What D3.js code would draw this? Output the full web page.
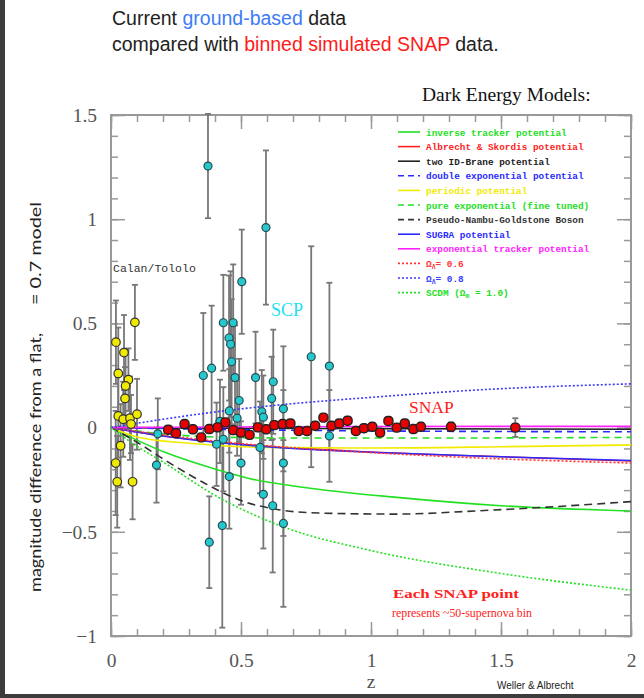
<!DOCTYPE html>
<html>
<head>
<meta charset="utf-8">
<script src="https://cdn.jsdelivr.net/npm/d3@7"></script>
<style>
  body { margin: 0; background: #fff; }
  svg { display: block; }
</style>
</head>
<body>
<div id="chart"></div>
<script>
// Page size and plot box
let w = 644;
let h = 698;
let plotLeft = 111, plotRight = 631, plotTop = 115, plotBottom = 636;

// Axis ticks
let xMajor = [0, 0.5, 1, 1.5, 2];
let yMajor = [-1, -0.5, 0, 0.5, 1, 1.5];

// Calan/Tololo points: [z, magnitude difference, error]
let calanTololo = [
  [0.019, 0.41, 0.2], [0.05, 0.36, 0.18], [0.092, 0.505, 0.18], [0.028, 0.26, 0.22],
  [0.067, 0.23, 0.15], [0.056, 0.20, 0.17], [0.054, 0.14, 0.15], [0.028, 0.056, 0.2],
  [0.047, 0.04, 0.18], [0.073, 0.045, 0.2], [0.10, 0.064, 0.17], [0.077, 0.017, 0.14],
  [0.037, -0.087, 0.2], [0.018, -0.17, 0.25], [0.024, -0.26, 0.22], [0.083, -0.26, 0.18]
];

// Supernova Cosmology Project points: [z, magnitude difference, error]
let scpPoints = [
  [0.373, 1.255, 0.25], [0.596, 0.96, 0.37], [0.503, 0.70, 0.25], [0.432, 0.503, 0.23],
  [0.47, 0.503, 0.28], [0.454, 0.43, 0.3], [0.46, 0.40, 0.35], [0.77, 0.34, 0.53],
  [0.355, 0.25, 0.3], [0.387, 0.285, 0.3], [0.464, 0.316, 0.3], [0.477, 0.24, 0.25],
  [0.556, 0.24, 0.22], [0.624, 0.22, 0.25], [0.618, 0.14, 0.2], [0.493, 0.13, 0.2],
  [0.455, 0.08, 0.2], [0.485, 0.045, 0.18], [0.58, 0.076, 0.2], [0.586, 0.05, 0.2],
  [0.663, 0.09, 0.3], [0.419, 0.03, 0.2], [0.432, -0.056, 0.25], [0.406, -0.08, 0.2],
  [0.573, -0.095, 0.22], [0.50, -0.17, 0.2], [0.663, -0.17, 0.35], [0.455, -0.235, 0.25],
  [0.586, -0.32, 0.26], [0.622, -0.375, 0.32], [0.663, -0.46, 0.4], [0.378, -0.55, 0.22],
  [0.428, -0.47, 0.49], [0.84, 0.295, 0.4], [0.84, -0.04, 0.22], [0.175, -0.18, 0.18],
  [0.18, -0.03, 0.17]
];

// Binned simulated SNAP points: [z, magnitude difference, error]
let snapPoints = [
  [0.22, -0.01, 0.015], [0.25, -0.027, 0.015], [0.283, 0.017, 0.015], [0.315, -0.008, 0.015],
  [0.347, -0.047, 0.015], [0.378, -0.007, 0.015], [0.41, 0.001, 0.015], [0.44, 0.025, 0.015],
  [0.47, -0.012, 0.015], [0.50, -0.024, 0.015], [0.533, -0.035, 0.015], [0.565, 0.001, 0.015],
  [0.597, -0.008, 0.015], [0.628, 0.012, 0.015], [0.66, 0.017, 0.015], [0.69, 0.02, 0.015],
  [0.722, -0.016, 0.015], [0.754, -0.016, 0.015], [0.785, 0.009, 0.015], [0.817, 0.048, 0.015],
  [0.848, 0.009, 0.015], [0.878, 0.02, 0.015], [0.91, 0.033, 0.015], [0.942, -0.016, 0.015],
  [0.973, -0.003, 0.015], [1.005, 0.004, 0.015], [1.035, -0.024, 0.015], [1.067, 0.032, 0.015],
  [1.099, 0.0, 0.015], [1.13, 0.02, 0.015], [1.163, -0.007, 0.015], [1.192, 0.004, 0.015],
  [1.308, 0.004, 0.02], [1.555, 0.0, 0.045]
];

// Dark energy model curves: [z, magnitude difference]
let inverseTracker = [[0, 0], [0.1, -0.06], [0.2, -0.115], [0.35, -0.18], [0.535, -0.245], [0.73, -0.285], [1.1, -0.335], [1.5, -0.375], [2, -0.4]];
let albrechtSkordis = [[0, 0], [0.2, -0.04], [0.5, -0.08], [1, -0.117], [1.5, -0.14], [2, -0.16]];
let twoBrane = [[0, 0], [0.5, -0.003], [1, -0.005], [2, -0.008]];
let doubleExponential = [[0, 0], [0.5, -0.01], [1, -0.016], [2, -0.02]];
let periodic = [[0, 0], [0.1, -0.045], [0.3, -0.075], [0.6, -0.095], [1.0, -0.098], [1.5, -0.092], [2, -0.083]];
let pureExponential = [[0, 0], [0.2, -0.03], [0.4, -0.045], [0.7, -0.05], [1.2, -0.05], [2, -0.047]];
let pngb = [[0, 0], [0.1, -0.07], [0.2, -0.15], [0.35, -0.26], [0.5, -0.35], [0.65, -0.395], [0.8, -0.41], [1.1, -0.415], [1.4, -0.4], [1.7, -0.38], [2, -0.355]];
let sugra = [[0, 0], [0.2, -0.04], [0.4, -0.07], [0.7, -0.1], [1.0, -0.118], [1.5, -0.14], [2, -0.158]];
let exponentialTracker = [[0, 0], [0.5, 0.003], [1, 0.005], [2, 0.006]];
let lambda06 = [[0, 0], [0.2, -0.035], [0.4, -0.065], [0.7, -0.097], [1.0, -0.12], [1.4, -0.145], [2, -0.17]];
let lambda08 = [[0, 0], [0.2, 0.04], [0.4, 0.075], [0.7, 0.115], [1.0, 0.145], [1.4, 0.18], [2, 0.21]];
let scdm = [[0, 0], [0.1, -0.09], [0.2, -0.165], [0.4, -0.325], [0.66, -0.475], [1.0, -0.59], [1.5, -0.70], [2.0, -0.78]];

// Model names in legend order, then matching data
let modelNames = [
  "inverse tracker potential", "Albrecht & Skordis potential", "two ID-Brane potential",
  "double exponential potential", "periodic potential", "pure exponential (fine tuned)",
  "Pseudo-Nambu-Goldstone Boson", "SUGRA potential", "exponential tracker potential",
  "ΩΛ= 0.6", "ΩΛ= 0.8", "SCDM (Ωm = 1.0)"
];
let modelData = [inverseTracker, albrechtSkordis, twoBrane, doubleExponential, periodic,
  pureExponential, pngb, sugra, exponentialTracker, lambda06, lambda08, scdm];

// Line styles for the models (colour, dash pattern)
let modelColors = ["#22e022", "#ff2222", "#222222", "#2a2aff", "#f2ea00", "#22e022",
  "#333333", "#2a2aff", "#ff22ff", "#ff3333", "#3a3aff", "#22e022"];
let modelDash = [null, null, null, "7,5", null, "7,5", "8,5", null, null, "2,2", "2,2", "2,2"];

let xScale = d3.scaleLinear().domain([0, 2]).range([plotLeft, plotRight]);
let yScale = d3.scaleLinear().domain([-1, 1.5]).range([plotBottom, plotTop]);

let svg = d3.select("#chart").append("svg")
  .attr("width", w)
  .attr("height", h);

// dark border strips of the screenshot
svg.append("rect").attr("x", 0).attr("y", 0).attr("width", 5).attr("height", h).attr("fill", "#3c3c3c");
svg.append("rect").attr("x", 0).attr("y", h - 4).attr("width", w).attr("height", 4).attr("fill", "#3c3c3c");

// Title
let title = svg.append("text")
  .attr("x", 112)
  .attr("y", 25)
  .attr("font-family", "Liberation Sans, Arial, sans-serif")
  .attr("font-size", "19.5px")
  .attr("fill", "#222");
title.append("tspan").text("Current ");
title.append("tspan").attr("fill", "#3d7cf5").text("ground-based");
title.append("tspan").text(" data");
let title2 = svg.append("text")
  .attr("x", 112)
  .attr("y", 51)
  .attr("font-family", "Liberation Sans, Arial, sans-serif")
  .attr("font-size", "19.5px")
  .attr("fill", "#222");
title2.append("tspan").text("compared with ");
title2.append("tspan").attr("fill", "#ff1a1a").text("binned simulated SNAP");
title2.append("tspan").text(" data.");

svg.append("text")
  .attr("x", 422)
  .attr("y", 101)
  .attr("font-family", "Liberation Serif, Times New Roman, serif")
  .attr("font-size", "19.5px")
  .attr("fill", "#111")
  .text("Dark Energy Models:");

// Minor and major ticks on all four sides
let tickColor = "#999";
let xMinor = d3.range(0, 2.001, 0.1);
let yMinor = d3.range(-1, 1.501, 0.1);
let axesSpec = [
  [d3.axisBottom(xScale), xMinor, "translate(0," + plotBottom + ")"],
  [d3.axisTop(xScale), xMinor, "translate(0," + plotTop + ")"],
  [d3.axisLeft(yScale), yMinor, "translate(" + plotLeft + ",0)"],
  [d3.axisRight(yScale), yMinor, "translate(" + plotRight + ",0)"]
];
axesSpec.forEach(function(a) {
  let g = svg.append("g").attr("transform", a[2])
    .call(a[0].tickValues(a[1]).tickSize(-7).tickFormat(""));
  g.select(".domain").remove();
  g.selectAll("line").attr("stroke", tickColor).attr("stroke-width", 1.5);
});
let xBottom = svg.append("g").attr("transform", "translate(0," + plotBottom + ")")
  .call(d3.axisBottom(xScale).tickValues(xMajor).tickSize(-14).tickPadding(17)
    .tickFormat(function(d) { return String(d); }));
let xTop = svg.append("g").attr("transform", "translate(0," + plotTop + ")")
  .call(d3.axisTop(xScale).tickValues(xMajor).tickSize(-14).tickFormat(""));
let yLeft = svg.append("g").attr("transform", "translate(" + plotLeft + ",0)")
  .call(d3.axisLeft(yScale).tickValues(yMajor).tickSize(-14).tickPadding(14)
    .tickFormat(function(d) { return (d < 0 ? "\u2212" : "") + Math.abs(d); }));
let yRight = svg.append("g").attr("transform", "translate(" + plotRight + ",0)")
  .call(d3.axisRight(yScale).tickValues(yMajor).tickSize(-14).tickFormat(""));
[xBottom, xTop, yLeft, yRight].forEach(function(g) {
  g.select(".domain").remove();
  g.selectAll("line").attr("stroke", tickColor).attr("stroke-width", 1.5);
  g.selectAll("text")
    .attr("font-family", "Liberation Serif, Times New Roman, serif")
    .attr("font-size", "19.5px")
    .attr("fill", "#555");
});

// frame
svg.append("rect")
  .attr("x", plotLeft).attr("y", plotTop)
  .attr("width", plotRight - plotLeft).attr("height", plotBottom - plotTop)
  .attr("fill", "none").attr("stroke", tickColor).attr("stroke-width", 2);

// axis titles
svg.append("text")
  .attr("x", xScale(1))
  .attr("y", 688)
  .attr("text-anchor", "middle")
  .attr("font-family", "Liberation Serif, Times New Roman, serif")
  .attr("font-size", "19.5px")
  .attr("fill", "#555")
  .text("z");
svg.append("text")
  .attr("transform", "translate(41,592) rotate(-90)")
  .attr("font-family", "Lato, Open Sans, sans-serif")
  .attr("font-size", "16px")
  .attr("fill", "#222")
  .attr("textLength", 259).attr("lengthAdjust", "spacingAndGlyphs")
  .text("magnitude difference from a flat,");
svg.append("text")
  .attr("transform", "translate(41,305) rotate(-90)")
  .attr("font-family", "Lato, Open Sans, sans-serif")
  .attr("font-size", "16px")
  .attr("fill", "#222")
  .attr("textLength", 103).attr("lengthAdjust", "spacingAndGlyphs")
  .text("= 0.7 model");

svg.append("text")
  .attr("x", 497)
  .attr("y", 689)
  .attr("font-family", "Liberation Sans, Arial, sans-serif")
  .attr("font-size", "10px")
  .attr("fill", "#222")
  .text("Weller & Albrecht");

// Error bars for all data sets
let allPoints = calanTololo.concat(scpPoints, snapPoints);
let errGroup = svg.append("g").attr("stroke", "#777").attr("stroke-width", 1.8);
errGroup.selectAll(".ebar")
  .data(allPoints)
  .enter()
  .append("line")
  .attr("x1", function(d) { return xScale(d[0]); })
  .attr("x2", function(d) { return xScale(d[0]); })
  .attr("y1", function(d) { return yScale(d[1] + d[2]); })
  .attr("y2", function(d) { return yScale(d[1] - d[2]); });
errGroup.selectAll(".capTop")
  .data(allPoints)
  .enter()
  .append("line")
  .attr("x1", function(d) { return xScale(d[0]) - 3; })
  .attr("x2", function(d) { return xScale(d[0]) + 3; })
  .attr("y1", function(d) { return yScale(d[1] + d[2]); })
  .attr("y2", function(d) { return yScale(d[1] + d[2]); });
errGroup.selectAll(".capBottom")
  .data(allPoints)
  .enter()
  .append("line")
  .attr("x1", function(d) { return xScale(d[0]) - 3; })
  .attr("x2", function(d) { return xScale(d[0]) + 3; })
  .attr("y1", function(d) { return yScale(d[1] - d[2]); })
  .attr("y2", function(d) { return yScale(d[1] - d[2]); });

// Model curves
let line = d3.line()
  .x(function(d) { return xScale(d[0]); })
  .y(function(d) { return yScale(d[1]); })
  .curve(d3.curveMonotoneX);
svg.append("g").selectAll("path")
  .data(modelData)
  .enter()
  .append("path")
  .attr("d", line)
  .attr("fill", "none")
  .attr("stroke", function(d, i) { return modelColors[i]; })
  .attr("stroke-width", 1.6)
  .attr("stroke-dasharray", function(d, i) { return modelDash[i]; });

// Ground based markers
svg.append("g").selectAll("circle")
  .data(calanTololo)
  .enter()
  .append("circle")
  .attr("cx", function(d) { return xScale(d[0]); })
  .attr("cy", function(d) { return yScale(d[1]); })
  .attr("r", 4.3)
  .attr("fill", "#f0ea00")
  .attr("stroke", "#333")
  .attr("stroke-width", 1.2);
svg.append("g").selectAll("circle")
  .data(scpPoints)
  .enter()
  .append("circle")
  .attr("cx", function(d) { return xScale(d[0]); })
  .attr("cy", function(d) { return yScale(d[1]); })
  .attr("r", 4)
  .attr("fill", "#25c8cc")
  .attr("stroke", "#2a4a50")
  .attr("stroke-width", 1.2);
// SNAP markers
svg.append("g").selectAll("rect")
  .data(snapPoints)
  .enter()
  .append("rect")
  .attr("x", function(d) { return xScale(d[0]) - 4.5; })
  .attr("y", function(d) { return yScale(d[1]) - 4.5; })
  .attr("width", 9)
  .attr("height", 9)
  .attr("rx", 3.8)
  .attr("fill", "#e80000")
  .attr("stroke", "#222")
  .attr("stroke-width", 1.4);

// Data set labels
svg.append("text")
  .attr("x", 113).attr("y", 272)
  .attr("font-family", "Liberation Mono, monospace")
  .attr("font-size", "11.5px")
  .attr("fill", "#333")
  .text("Calan/Tololo");
svg.append("text")
  .attr("x", 271).attr("y", 316)
  .attr("font-family", "Liberation Serif, Times New Roman, serif")
  .attr("font-size", "18px")
  .attr("fill", "#22e0f0")
  .text("SCP");
svg.append("text")
  .attr("x", 409).attr("y", 413)
  .attr("font-family", "Liberation Serif, Times New Roman, serif")
  .attr("font-size", "17.5px")
  .attr("fill", "#ff2020")
  .text("SNAP");
svg.append("text")
  .attr("x", 393).attr("y", 598)
  .attr("font-family", "Liberation Serif, Times New Roman, serif")
  .attr("font-size", "13.5px")
  .attr("font-weight", "bold")
  .attr("fill", "#ff2020")
  .attr("textLength", 126).attr("lengthAdjust", "spacingAndGlyphs")
  .text("Each SNAP point");
svg.append("text")
  .attr("x", 392).attr("y", 617)
  .attr("font-family", "Liberation Serif, Times New Roman, serif")
  .attr("font-size", "13px")
  .attr("fill", "#ff2020")
  .attr("textLength", 140).attr("lengthAdjust", "spacingAndGlyphs")
  .text("represents ~50-supernova bin");

// Legend
let legendX = 398, legendY = 132, legendStep = 14.6;
let legend = svg.append("g");
modelNames.forEach(function(name, i) {
  let yy = legendY + i * legendStep;
  legend.append("line")
    .attr("x1", legendX).attr("x2", legendX + 22)
    .attr("y1", yy).attr("y2", yy)
    .attr("stroke", modelColors[i])
    .attr("stroke-width", 1.6)
    .attr("stroke-dasharray", modelDash[i] ? (modelDash[i] === "2,2" ? "2,2" : "6,4") : null);
  let t = legend.append("text")
    .attr("x", legendX + 28).attr("y", yy + 3.5)
    .attr("font-family", "Liberation Mono, monospace")
    .attr("font-size", "9.4px")
    .attr("font-weight", "bold")
    .attr("fill", modelColors[i]);
  // greek symbols with subscripts
  if (name.indexOf("Ω") >= 0) {
    let parts = name.split("Ω");
    t.append("tspan").text(parts[0] + "Ω");
    t.append("tspan").attr("font-size", "6.5px").attr("dy", 2).text(parts[1].charAt(0));
    t.append("tspan").attr("dy", -2).text(parts[1].slice(1));
  } else {
    t.text(name);
  }
});
</script>
</body>
</html>
